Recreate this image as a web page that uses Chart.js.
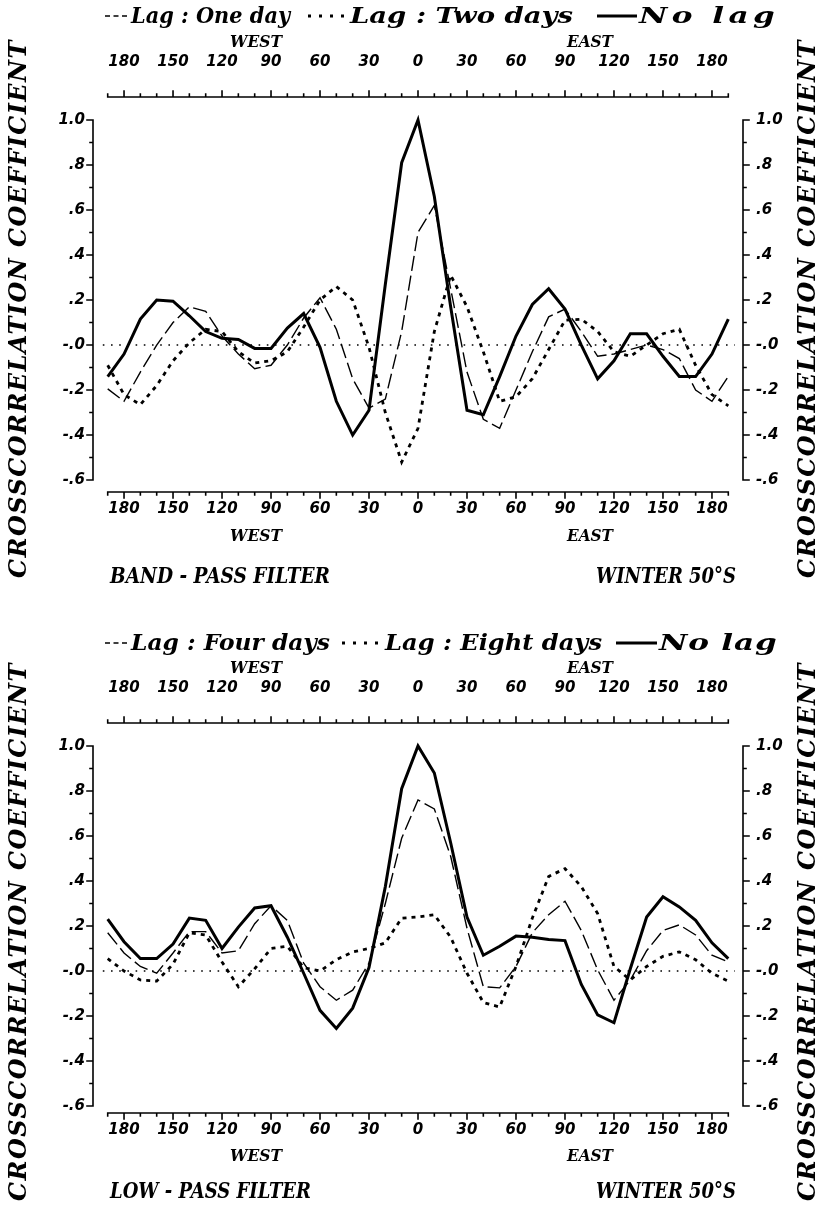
<!DOCTYPE html>
<html>
<head>
<meta charset="utf-8">
<script src="https://cdn.jsdelivr.net/npm/chart.js@4.4.1/dist/chart.umd.min.js"></script>
<style>
  html, body { margin: 0; padding: 0; background: #fff; }
  #wrap { position: relative; width: 819px; height: 1209px; }
  canvas { position: absolute; left: 0; }
</style>
</head>
<body>
<div id="wrap">
  <canvas id="bandPass" width="819" height="626" style="top:0px"></canvas>
  <canvas id="lowPass" width="819" height="583" style="top:626px"></canvas>
</div>
<script>
// longitude of every sample, west negative
var lonDeg = [-190, -180, -170, -160, -150, -140, -130, -120, -110, -100,
              -90, -80, -70, -60, -50, -40, -30, -20, -10, 0,
              10, 20, 30, 40, 50, 60, 70, 80, 90, 100,
              110, 120, 130, 140, 150, 160, 170, 180, 190];

var xTickValues = [-180, -150, -120, -90, -60, -30, 0, 30, 60, 90, 120, 150, 180];
var xTickLabels = ["180", "150", "120", "90", "60", "30", "0", "30", "60", "90", "120", "150", "180"];
var yTickValues = [-0.6, -0.4, -0.2, 0, 0.2, 0.4, 0.6, 0.8, 1.0];
var yTickLabels = ["-.6", "-.4", "-.2", "-.0", ".2", ".4", ".6", ".8", "1.0"];

// band-pass filter, winter 50S
var bandNoLag = [-0.14, -0.04, 0.115, 0.20, 0.195, 0.13, 0.06, 0.03, 0.025, -0.015,
                 -0.015, 0.075, 0.14, -0.01, -0.25, -0.40, -0.29, 0.27, 0.81, 1.0,
                 0.66, 0.17, -0.29, -0.31, -0.14, 0.04, 0.18, 0.25, 0.16, 0.0,
                 -0.15, -0.07, 0.05, 0.05, -0.05, -0.14, -0.14, -0.04, 0.115];
var bandLagOne = [-0.195, -0.25, -0.12, 0.0, 0.10, 0.17, 0.15, 0.04, -0.04, -0.105,
                  -0.09, 0.0, 0.12, 0.21, 0.07, -0.15, -0.28, -0.24, 0.06, 0.50,
                  0.62, 0.25, -0.12, -0.33, -0.37, -0.20, -0.03, 0.125, 0.16, 0.06,
                  -0.05, -0.04, -0.02, 0.0, -0.02, -0.06, -0.20, -0.25, -0.14];
var bandLagTwo = [-0.09, -0.22, -0.265, -0.18, -0.07, 0.01, 0.07, 0.06, -0.03, -0.08,
                  -0.07, -0.03, 0.08, 0.20, 0.26, 0.20, -0.01, -0.30, -0.52, -0.37,
                  0.06, 0.31, 0.17, -0.03, -0.25, -0.23, -0.15, -0.02, 0.11, 0.115,
                  0.06, -0.03, -0.05, 0.0, 0.05, 0.07, -0.09, -0.22, -0.27];

// low-pass filter, winter 50S
var lowNoLag = [0.23, 0.13, 0.055, 0.055, 0.12, 0.235, 0.225, 0.10, 0.195, 0.28,
                0.29, 0.15, -0.01, -0.175, -0.255, -0.165, 0.015, 0.375, 0.81, 1.0,
                0.88, 0.57, 0.24, 0.07, 0.11, 0.155, 0.15, 0.14, 0.135, -0.06,
                -0.195, -0.23, 0.01, 0.24, 0.33, 0.285, 0.225, 0.125, 0.055];
var lowLagFour = [0.17, 0.08, 0.02, -0.01, 0.08, 0.175, 0.175, 0.08, 0.09, 0.21,
                  0.29, 0.225, 0.035, -0.07, -0.13, -0.085, 0.035, 0.30, 0.59, 0.76,
                  0.72, 0.51, 0.19, -0.07, -0.075, 0.02, 0.17, 0.25, 0.31, 0.18,
                  0.005, -0.13, -0.04, 0.09, 0.18, 0.205, 0.16, 0.07, 0.04];
var lowLagEight = [0.055, 0.0, -0.04, -0.045, 0.03, 0.17, 0.16, 0.04, -0.07, 0.01,
                   0.10, 0.11, 0.015, 0.0, 0.05, 0.085, 0.10, 0.125, 0.235, 0.24,
                   0.25, 0.15, -0.01, -0.14, -0.16, 0.02, 0.235, 0.42, 0.455, 0.375,
                   0.255, 0.02, -0.04, 0.02, 0.065, 0.085, 0.05, -0.01, -0.045];

var lineStyles = {
  solid:    { borderWidth: 3,   borderDash: [],      legendDash: [] },
  longDash: { borderWidth: 1.4, borderDash: [15, 5], legendDash: [5, 3.5] },
  dotted:   { borderWidth: 2.8, borderDash: [4, 5],  legendDash: [3, 8] }
};

var tickFont = { family: "DejaVu Sans", size: 15, style: "italic", weight: "bold" };
var serif = "\"DejaVu Serif\"";

var panels = [
  {
    id: "bandPass", bottomPad: 74, yMin: -0.653, yMax: 1.102,
    series: [["Lag : One day", bandLagOne, "longDash"],
             ["Lag : Two days", bandLagTwo, "dotted"],
             ["No lag", bandNoLag, "solid"]],
    legendY: 23,
    legendBoxes: [[105, 128, 131, 290], [308, 345, 350, 573], [597, 637, 639, 777]],
    topTitleY: 47, bottomTitleY: 541,
    caption: "BAND - PASS FILTER", captionX: [110, 330], captionY: 583,
    season: "WINTER 50°S", seasonX: [596, 736],
    yTitleY: 309
  },
  {
    id: "lowPass", bottomPad: 36, yMin: -0.631, yMax: 1.102,
    series: [["Lag : Four days", lowLagFour, "longDash"],
             ["Lag : Eight days", lowLagEight, "dotted"],
             ["No lag", lowNoLag, "solid"]],
    legendY: 24,
    legendBoxes: [[105, 128, 131, 330], [342, 380, 385, 602], [616, 657, 659, 777]],
    topTitleY: 47, bottomTitleY: 535,
    caption: "LOW - PASS FILTER", captionX: [110, 311], captionY: 572,
    season: "WINTER 50°S", seasonX: [596, 736],
    yTitleY: 306
  }
];

// draw text to a given width: squeeze, or stretch up to a limit and space the rest
function fitText(ctx, text, left, baseY, width, font, maxStretch) {
  maxStretch = maxStretch || 1.35;
  ctx.save();
  ctx.font = font;
  ctx.textAlign = "left";
  ctx.textBaseline = "alphabetic";
  var w = ctx.measureText(text).width;
  ctx.translate(left, baseY);
  if (w * maxStretch < width && "letterSpacing" in ctx) {
    ctx.scale(maxStretch, 1);
    ctx.letterSpacing = ((width / maxStretch - w) / (text.length - 0.5)) + "px";
  } else {
    ctx.scale(width / w, 1);
  }
  ctx.fillText(text, 0, 0);
  ctx.restore();
}

// rotated text reading upward, baseX is the baseline on the page
function fitTextUp(ctx, text, baseX, cy, width, font) {
  ctx.save();
  ctx.translate(baseX, cy);
  ctx.rotate(-Math.PI / 2);
  fitText(ctx, text, -width / 2, 0, width, font, 1.0);
  ctx.restore();
}

var decorPlugin = {
  id: "decor",
  afterDraw: function (chart) {
    var p = chart.options.plugins.decor;
    var ctx = chart.ctx;
    var xs = chart.scales.x, ys = chart.scales.y;
    var ca = chart.chartArea;
    var x0 = xs.getPixelForValue(-190), x1 = xs.getPixelForValue(190);
    var yTop = ys.getPixelForValue(1.0), yBot = ys.getPixelForValue(-0.6);

    ctx.save();
    ctx.strokeStyle = "#000";
    ctx.fillStyle = "#000";
    ctx.lineWidth = 1.6;
    ctx.lineCap = "square";

    // zero line
    ctx.save();
    ctx.lineWidth = 1.4;
    ctx.lineCap = "butt";
    ctx.setLineDash([1.6, 6.6]);
    ctx.beginPath();
    ctx.moveTo(xs.getPixelForValue(-193), ys.getPixelForValue(0));
    ctx.lineTo(xs.getPixelForValue(194), ys.getPixelForValue(0));
    ctx.stroke();
    ctx.restore();

    // x axes, top and bottom, ticks pointing outward
    [[ca.bottom, 1], [ca.top, -1]].forEach(function (a) {
      ctx.beginPath();
      ctx.moveTo(x0, a[0]);
      ctx.lineTo(x1, a[0]);
      for (var v = -190; v <= 190; v += 10) {
        var px = xs.getPixelForValue(v);
        var len = (v % 30 === 0) ? 6 : 3;
        ctx.moveTo(px, a[0]);
        ctx.lineTo(px, a[0] + a[1] * len);
      }
      ctx.stroke();
    });

    // y axes, left and right
    [[ca.left, -1], [ca.right, 1]].forEach(function (a) {
      ctx.beginPath();
      ctx.moveTo(a[0], yTop);
      ctx.lineTo(a[0], yBot);
      for (var k = -6; k <= 10; k++) {
        var py = ys.getPixelForValue(k / 10);
        var len = (k % 2 === 0) ? 6 : 3;
        ctx.moveTo(a[0], py);
        ctx.lineTo(a[0] + a[1] * len, py);
      }
      ctx.stroke();
    });

    // legend line
    chart.data.datasets.forEach(function (ds, i) {
      var b = p.legendBoxes[i];
      var ly = p.legendY - 7;
      ctx.save();
      ctx.lineWidth = ds.borderWidth;
      ctx.lineCap = "butt";
      ctx.setLineDash(ds.legendDash);
      ctx.beginPath();
      ctx.moveTo(b[0], ly);
      ctx.lineTo(b[1], ly);
      ctx.stroke();
      ctx.restore();
      fitText(ctx, ds.label, b[2], p.legendY, b[3] - b[2], "italic bold 23px " + serif);
    });

    var dirFont = "italic bold 16px " + serif;
    fitText(ctx, "WEST", 230, p.topTitleY, 52, dirFont);
    fitText(ctx, "EAST", 567, p.topTitleY, 46, dirFont);
    fitText(ctx, "WEST", 230, p.bottomTitleY, 52, dirFont);
    fitText(ctx, "EAST", 567, p.bottomTitleY, 46, dirFont);

    var capFont = "italic bold 23px " + serif;
    fitText(ctx, p.caption, p.captionX[0], p.captionY, p.captionX[1] - p.captionX[0], capFont);
    fitText(ctx, p.season, p.seasonX[0], p.captionY, p.seasonX[1] - p.seasonX[0], capFont);

    var yFont = "italic bold 24px " + serif;
    fitTextUp(ctx, "CROSSCORRELATION COEFFICIENT", 26, p.yTitleY, 538, yFont);
    fitTextUp(ctx, "CROSSCORRELATION COEFFICIENT", 815, p.yTitleY, 538, yFont);
    ctx.restore();
  }
};

function xAxis(position, height, pad) {
  return {
    type: "linear", position: position, min: -199, max: 199,
    grid: { display: false, drawTicks: false },
    border: { display: false },
    afterBuildTicks: function (s) { s.ticks = xTickValues.map(function (v) { return { value: v }; }); },
    afterFit: function (s) { s.height = height; },
    ticks: {
      padding: pad, autoSkip: false, maxRotation: 0, minRotation: 0,
      font: tickFont, color: "#000",
      callback: function (v) { return xTickLabels[xTickValues.indexOf(v)]; }
    }
  };
}

function yAxis(position, width, pad, p) {
  return {
    type: "linear", position: position, min: p.yMin, max: p.yMax,
    grid: { display: false, drawTicks: false },
    border: { display: false },
    afterBuildTicks: function (s) { s.ticks = yTickValues.map(function (v) { return { value: v }; }); },
    afterFit: function (s) { s.width = width; },
    ticks: {
      padding: pad, autoSkip: false, font: tickFont, color: "#000",
      callback: function (v) { return yTickLabels[yTickValues.indexOf(v)]; }
    }
  };
}

panels.forEach(function (p) {
  var datasets = p.series.map(function (s) {
    var st = lineStyles[s[2]];
    return {
      label: s[0],
      data: lonDeg.map(function (lon, i) { return { x: lon, y: s[1][i] }; }),
      borderColor: "#000",
      borderWidth: st.borderWidth,
      borderDash: st.borderDash,
      legendDash: st.legendDash,
      borderCapStyle: "butt",
      borderJoinStyle: "miter",
      pointRadius: 0,
      fill: false,
      tension: 0
    };
  });

  new Chart(document.getElementById(p.id), {
    type: "line",
    data: { datasets: datasets },
    options: {
      responsive: false,
      animation: false,
      devicePixelRatio: 1,
      layout: { padding: { left: 0, right: 0, top: 0, bottom: p.bottomPad } },
      plugins: {
        legend: { display: false },
        tooltip: { enabled: false },
        decor: p
      },
      scales: {
        x: xAxis("bottom", 60, 8),
        x2: xAxis("top", 97, 26),
        y: yAxis("left", 93, 8, p),
        y2: yAxis("right", 76, 13, p)
      }
    },
    plugins: [decorPlugin]
  });
});
</script>
</body>
</html>
